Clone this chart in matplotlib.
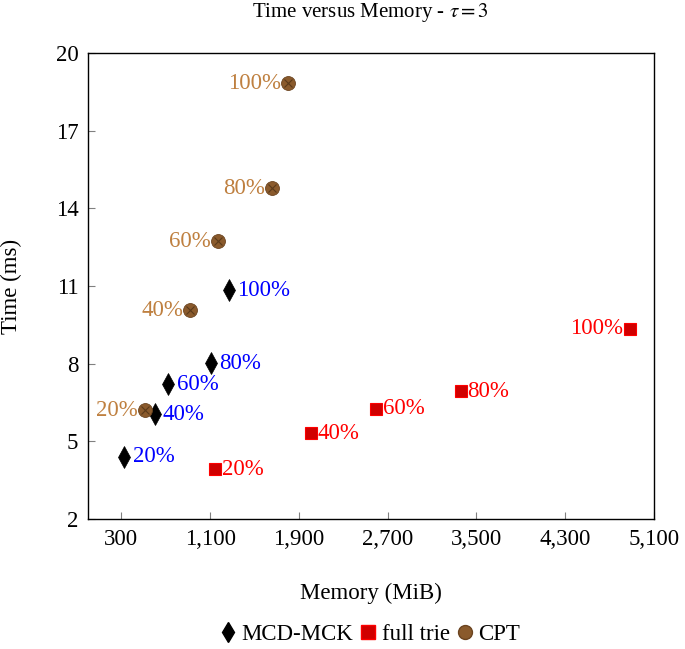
import matplotlib
matplotlib.use('Agg')
import matplotlib.pyplot as plt
from matplotlib.lines import Line2D
from matplotlib.ticker import FuncFormatter

plt.rcParams['font.family'] = ['Liberation Serif', 'DejaVu Serif']
plt.rcParams['mathtext.fontset'] = 'stix'

labels = ['20%', '40%', '60%', '80%', '100%']

mck_mem = [327, 600, 725, 1110, 1271]
mck_time = [4.4, 6.05, 7.21, 8.02, 10.84]

trie_mem = [1146, 2009, 2593, 3357, 4885]
trie_time = [3.93, 5.32, 6.25, 6.94, 9.34]

cpt_mem = [512, 921, 1173, 1658, 1802]
cpt_time = [6.21, 10.07, 12.73, 14.78, 18.83]

xticks = [300, 1100, 1900, 2700, 3500, 4300, 5100]
yticks = [2, 5, 8, 11, 14, 17, 20]

brown = '#BF8040'
cpt_fill = '#8A5A2C'
trie_fill = '#D00000'

fig = plt.figure(figsize=(6.85, 6.49), dpi=100)
ax = fig.add_axes([0.1285, 0.2003, 0.8262, 0.718])

fs = 16.5

# MCD-MCK
ax.plot(mck_mem, mck_time, linestyle='none', marker='d', ms=11, color='black',
        markeredgewidth=0.5, zorder=3)
for x, y, t in zip(mck_mem, mck_time, labels):
    ax.annotate(t, (x, y), xytext=(6, 0), textcoords='offset points',
                ha='left', va='center', color='blue', fontsize=fs)

# full trie
ax.plot(trie_mem, trie_time, linestyle='none', marker='s', ms=9, color=trie_fill,
        markeredgecolor='red', markeredgewidth=0.8, zorder=3)
for i, (x, y, t) in enumerate(zip(trie_mem, trie_time, labels)):
    if i == len(labels) - 1:
        ax.annotate(t, (x, y), xytext=(-5, 0), textcoords='offset points',
                    ha='right', va='center', color='red', fontsize=fs)
    else:
        ax.annotate(t, (x, y), xytext=(5, 0), textcoords='offset points',
                    ha='left', va='center', color='red', fontsize=fs)

# CPT
ax.plot(cpt_mem, cpt_time, linestyle='none', marker='o', ms=10, color=cpt_fill,
        markeredgecolor='#6B4420', markeredgewidth=0.6, zorder=3)
ax.plot(cpt_mem, cpt_time, linestyle='none', marker='x', ms=6, color='#5A3A1A',
        markeredgewidth=0.8, zorder=4)
for x, y, t in zip(cpt_mem, cpt_time, labels):
    ax.annotate(t, (x, y), xytext=(-5, 0), textcoords='offset points',
                ha='right', va='center', color=brown, fontsize=fs)

ax.set_xlim(0, 5100)
ax.set_ylim(2, 20)
ax.set_xticks(xticks)
ax.set_yticks(yticks)
ax.xaxis.set_major_formatter(FuncFormatter(lambda v, p: f'{int(v):,}'))
ax.tick_params(direction='in', length=5, color='#808080', labelsize=fs, pad=7)
for s in ax.spines.values():
    s.set_linewidth(1.0)

ax.set_xlabel('Memory (MiB)', fontsize=fs, labelpad=24)
ax.set_ylabel('Time (ms)', fontsize=fs, labelpad=24)
ax.set_title(r'Time versus Memory - $\tau = 3$', fontsize=15, pad=26)

handles = [
    Line2D([], [], linestyle='none', marker='d', ms=10, color='black'),
    Line2D([], [], linestyle='none', marker='s', ms=10, color=trie_fill, markeredgecolor='red'),
    Line2D([], [], linestyle='none', marker='o', ms=10, color=cpt_fill, markeredgecolor='#6B4420'),
]
fig.legend(handles, ['MCD-MCK', 'full trie', 'CPT'], loc='center', bbox_to_anchor=(0.54, 0.023),
           ncol=3, frameon=False, fontsize=fs, handlelength=0.7, handletextpad=0.25,
           columnspacing=0.3)

fig.savefig('out.png', dpi=100)
